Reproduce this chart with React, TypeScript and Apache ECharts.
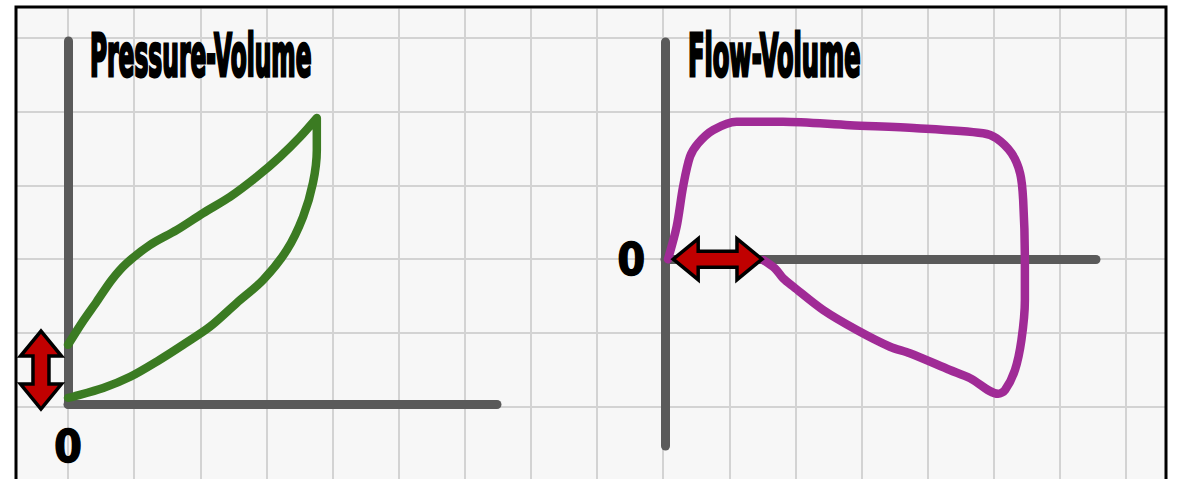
import React, { useEffect, useRef } from "react";
import * as echarts from "echarts";

// Pressure-Volume loop (x: pressure, y: volume), in loop order
const pvPressure = [0, 3.2, 6.7, 10.2, 13.7, 19.1, 25.3, 31.5, 37.8, 44.0, 49.4, 54.1, 58.0, 58.0, 58.0, 57.1, 54.8, 51.0, 45.5, 39.3, 33.1, 26.8, 20.7, 14.5, 8.2, 1.2, 0];
const pvVolume = [16.3, 22.3, 28.2, 34.2, 38.8, 43.8, 47.9, 52.6, 57.1, 62.6, 68.1, 73.6, 78.8, 74.1, 70.0, 60.9, 51.6, 42.4, 34.2, 27.8, 21.3, 16.3, 11.7, 7.5, 4.4, 2.0, 1.7];

// Flow-Volume loop (x: volume, y: flow), in loop order
const fvVolume = [0.7, 2.7, 4.2, 5.8, 7.7, 11.2, 16.6, 27.4, 42.9, 58.4, 73.8, 76.9, 80.4, 82.4, 83.1, 83.5, 83.5, 82.7, 81.2, 78.9, 77.3, 70.8, 66.1, 56.8, 52.2, 44.5, 36.7, 29.8, 27.4, 25.5, 22.8];
const fvFlow = [0, 15.0, 33.4, 47.2, 53.4, 59.5, 63.3, 63.3, 61.7, 60.3, 58.0, 55.7, 48.8, 39.5, 27.3, -0.4, -18.8, -37.2, -51.0, -60.2, -62.0, -54.8, -51.0, -43.3, -40.3, -32.6, -23.4, -12.7, -8.8, -4.2, -0.4];

// Double-arrow annotations: [x1, y1, x2, y2] in each chart's data units
const pvArrow = [[-6.3, 20.1, -6.3, -1.4]];
const fvArrow = [[1.9, 0, 22.5, 0]];

const titles = ["Pressure-Volume", "Flow-Volume"];
const zeroLabel = "0";

const FONT = '"Liberation Sans Narrow", "DejaVu Sans Condensed", "Liberation Sans", sans-serif';
const AXIS_COLOR = "#5a5a5a";
const GRID_COLOR = "#d3d3d3";

function arrowRender(params: any, api: any) {
  const a = api.coord([api.value(0), api.value(1)]);
  const b = api.coord([api.value(2), api.value(3)]);
  const dx = b[0] - a[0];
  const dy = b[1] - a[1];
  const L = Math.hypot(dx, dy);
  const ux = dx / L, uy = dy / L;
  const vx = -uy, vy = ux;
  const h = 25, w = 20.5, s = 8;
  const local = [
    [0, 0], [h, w], [h, s], [L - h, s], [L - h, w],
    [L, 0], [L - h, -w], [L - h, -s], [h, -s], [h, -w],
  ];
  const points = local.map(([u, v]) => [a[0] + ux * u + vx * v, a[1] + uy * u + vy * v]);
  return {
    type: "polygon",
    shape: { points },
    style: { fill: "#c00000", stroke: "#000000", lineWidth: 3.5, lineJoin: "miter" },
  };
}

export default function App() {
  const ref = useRef<HTMLDivElement>(null);

  useEffect(() => {
    document.body.style.margin = "0";
    if (!ref.current) return;
    const chart = echarts.init(ref.current, undefined, { renderer: "svg" });

    const chartAxisLine = {
      show: true,
      lineStyle: { color: AXIS_COLOR, width: 9, cap: "round" },
    };
    const zeroLabelStyle = {
      fontSize: 44,
      fontWeight: "bold",
      fontFamily: FONT,
      color: "#000",
      textBorderColor: "#000",
      textBorderWidth: 1.5,
    };
    const titleStyle = {
      fontSize: 59, fontWeight: "bold", fontFamily: FONT,
      fill: "#000", stroke: "#000", lineWidth: 3, lineJoin: "round", verticalAlign: "top",
    };

    const option: any = {
      animation: false,
      backgroundColor: "#ffffff",
      grid: [
        { left: 68, top: 8.5, width: 1058, height: 471 }, // vertical paper lines
        { left: 16, top: 38, width: 1150, height: 368.5 }, // horizontal paper lines
        { left: 68, top: 41, width: 429, height: 363 }, // Pressure-Volume
        { left: 665, top: 42, width: 431, height: 404 }, // Flow-Volume
      ],
      xAxis: [
        {
          gridIndex: 0, type: "value", min: 0, max: 16, interval: 1,
          axisLine: { show: false }, axisTick: { show: false }, axisLabel: { show: false },
          splitLine: { show: true, lineStyle: { color: GRID_COLOR, width: 2 } },
        },
        { gridIndex: 1, type: "value", min: 0, max: 1, show: false, splitLine: { show: false } },
        {
          gridIndex: 2, type: "value", min: 0, max: 100, interval: 10, z: 1,
          axisLine: { ...chartAxisLine, onZero: false },
          axisTick: { show: false },
          splitLine: { show: false },
          axisLabel: {
            show: true, margin: 20, ...zeroLabelStyle,
            formatter: (v: number) => (Math.abs(v) < 1e-6 ? zeroLabel : ""),
          },
        },
        {
          gridIndex: 3, type: "value", min: 0, max: 100, interval: 10, z: 1,
          axisLine: { ...chartAxisLine, onZero: true },
          axisTick: { show: false },
          splitLine: { show: false },
          axisLabel: { show: false },
        },
      ],
      yAxis: [
        { gridIndex: 0, type: "value", min: 0, max: 1, show: false, splitLine: { show: false } },
        {
          gridIndex: 1, type: "value", min: 0, max: 5, interval: 1,
          axisLine: { show: false }, axisTick: { show: false }, axisLabel: { show: false },
          splitLine: { show: true, lineStyle: { color: GRID_COLOR, width: 2 } },
        },
        {
          gridIndex: 2, type: "value", min: 0, max: 100, interval: 10, z: 1,
          axisLine: { ...chartAxisLine, onZero: false },
          axisTick: { show: false },
          splitLine: { show: false },
          axisLabel: { show: false },
        },
        {
          gridIndex: 3, type: "value", min: -86, max: 100, interval: 2, z: 1,
          axisLine: { ...chartAxisLine, onZero: false },
          axisTick: { show: false },
          splitLine: { show: false },
          axisLabel: {
            show: true, margin: 20, ...zeroLabelStyle,
            formatter: (v: number) => (Math.abs(v) < 1e-6 ? zeroLabel : ""),
          },
        },
      ],
      series: [
        {
          type: "line", xAxisIndex: 2, yAxisIndex: 2, z: 3,
          data: pvPressure.map((p, i) => [p, pvVolume[i]]),
          smooth: 0.3, symbol: "none", clip: false,
          lineStyle: { color: "#3b7b22", width: 8.5, cap: "round", join: "round" },
        },
        {
          type: "line", xAxisIndex: 3, yAxisIndex: 3, z: 3,
          data: fvVolume.map((v, i) => [v, fvFlow[i]]),
          smooth: 0.3, symbol: "none", clip: false,
          lineStyle: { color: "#a02b96", width: 8.5, cap: "round", join: "round" },
        },
        {
          type: "custom", xAxisIndex: 2, yAxisIndex: 2, z: 10, clip: false,
          renderItem: arrowRender, data: pvArrow,
        },
        {
          type: "custom", xAxisIndex: 3, yAxisIndex: 3, z: 10, clip: false,
          renderItem: arrowRender, data: fvArrow,
        },
      ],
      graphic: [
        {
          type: "rect", z: -100, silent: true,
          shape: { x: 16, y: 7, width: 1150, height: 480 },
          style: { fill: "#f7f7f7" },
        },
        {
          type: "rect", z: 100, silent: true,
          shape: { x: 16, y: 7, width: 1150, height: 480 },
          style: { fill: "none", stroke: "#000000", lineWidth: 3 },
        },
        {
          type: "text", z: 100, x: 90, y: 26, scaleX: 0.44,
          style: { text: titles[0], ...titleStyle },
        },
        {
          type: "text", z: 100, x: 688, y: 26, scaleX: 0.455,
          style: { text: titles[1], ...titleStyle },
        },
      ],
    };

    chart.setOption(option);
    return () => chart.dispose();
  }, []);

  return <div ref={ref} style={{ width: 1178, height: 479 }} />;
}
